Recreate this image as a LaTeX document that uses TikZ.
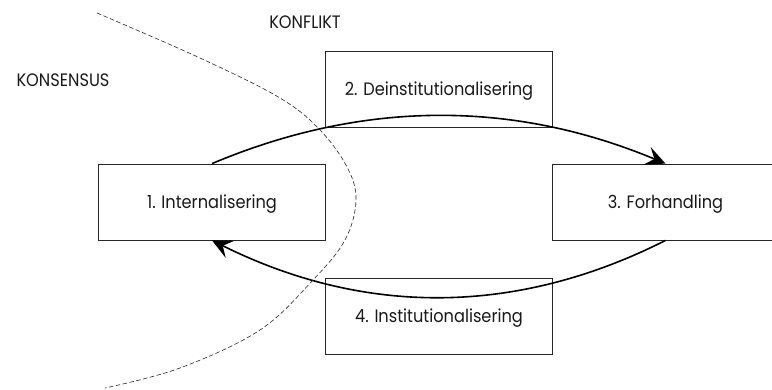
\documentclass[tikz,border=0pt]{standalone}
\usepackage{fontspec}
\setmainfont[FakeStretch=0.9]{Poppins}
\usetikzlibrary{arrows.meta}
\begin{document}
\begin{tikzpicture}[x=1pt,y=-1pt,
  stage/.style={draw=black!85, line width=0.8pt, minimum width=227pt, minimum height=76pt,
    inner sep=0pt, text height=12.5pt, text depth=0pt, font=\fontsize{18}{21}\selectfont, text=black!90},
  region/.style={inner sep=0pt, font=\fontsize{18}{21}\selectfont, text=black!90},
  flow/.style={line width=1.6pt, black, -{Stealth[length=20pt,width=19pt,inset=8pt]}},
  border/.style={dash pattern=on 4.5pt off 2.5pt, line width=0.6pt, black!85}
]
\useasboundingbox (0,0) rectangle (772,389);
\clip (0,0) rectangle (772,389);
\node[stage] (b1) at (212,202) {1. Internalisering};
\node[stage] (b2) at (439,89) {2. Deinstitutionalisering};
\node[stage] (b3) at (665.5,202) {3. Forhandling};
\node[stage] (b4) at (439,316) {4. Institutionalisering};
\node[region] (konflikt) at (305,22.5) {KONFLIKT};
\node[region] (konsensus) at (63,80.5) {KONSENSUS};
\coordinate (cu1) at (363,100);
\coordinate (cu2) at (513,100);
\coordinate (cl1) at (516,316);
\coordinate (cl2) at (364,316);
\draw[flow] (b1.north) .. controls (cu1) and (cu2) .. (b3.north);
\draw[flow] (b3.south) .. controls (cl1) and (cl2) .. (b1.south);
\draw[border] plot[smooth, tension=0.6] coordinates {(97,13) (200,58) (280,98) (320,130) (347,167) (356,200) (345,240) (313,280) (260,330) (180,368) (105,388)};
\end{tikzpicture}
\end{document}
